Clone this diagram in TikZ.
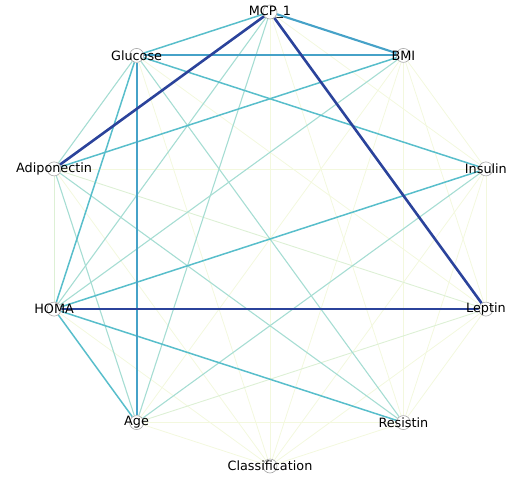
\documentclass[tikz,border=0pt]{standalone}
\usepackage{fontspec}
\setmainfont{DejaVu Sans}
\usetikzlibrary{backgrounds}

\definecolor{wdark}{HTML}{2B439B}
\definecolor{wblue}{HTML}{46A2C8}
\definecolor{wteal}{HTML}{58BECB}
\definecolor{wlight}{HTML}{A6DDD3}
\definecolor{wgreen}{HTML}{DDF0D5}
\definecolor{wpale}{HTML}{F3F8DE}

\begin{document}
\begin{tikzpicture}[x=1pt,y=-1pt,
  var/.style={circle,draw=black!35,line width=0.6pt,fill=white,minimum size=14pt,inner sep=0pt},
  lbl/.style={font=\fontsize{12.8}{14}\selectfont,text=black,inner sep=0pt},
  edark/.style={draw=wdark,line width=2.6pt},
  eblue/.style={draw=wblue,line width=2.1pt},
  eteal/.style={draw=wteal,line width=1.5pt},
  elight/.style={draw=wlight,line width=1.1pt},
  egreen/.style={draw=wgreen,line width=0.9pt},
  epale/.style={draw=wpale,line width=0.8pt}]
\useasboundingbox (0,0) rectangle (517,477);

% variables on a decagon
\node[var,label={[lbl]center:MCP\_1}] (mcp) at (270,12) {};
\node[var,label={[lbl]center:Glucose}] (glu) at (136.6,55.4) {};
\node[var,label={[lbl]center:BMI}] (bmi) at (403.4,55.4) {};
\node[var,label={[lbl]center:Adiponectin}] (adi) at (54.1,168.9) {};
\node[var,label={[lbl]center:Insulin}] (ins) at (485.9,168.9) {};
\node[var,label={[lbl]center:HOMA}] (homa) at (54.1,309.1) {};
\node[var,label={[lbl]center:Leptin}] (lep) at (485.9,309.1) {};
\node[var,label={[lbl]center:Age}] (age) at (136.6,422.6) {};
\node[var,label={[lbl]center:Resistin}] (res) at (403.4,422.6) {};
\node[var,label={[lbl]center:Classification}] (cls) at (270,466) {};

\begin{scope}[on background layer]
% weak links first
\foreach \a/\b in {mcp/ins,mcp/res,mcp/cls,glu/lep,glu/cls,bmi/ins,bmi/lep,
  bmi/age,bmi/res,bmi/cls,adi/ins,adi/cls,ins/lep,ins/res,ins/cls,homa/cls,
  lep/res,lep/cls,age/res,age/cls,res/cls}
  \draw[epale] (\a) -- (\b);
\foreach \a/\b in {adi/homa,adi/lep,age/lep}
  \draw[egreen] (\a) -- (\b);
\foreach \a/\b in {mcp/homa,mcp/age,bmi/homa,glu/adi,glu/res,adi/res,adi/age,age/ins}
  \draw[elight] (\a) -- (\b);
\foreach \a/\b in {mcp/glu,glu/ins,glu/homa,adi/bmi,homa/ins,homa/age,homa/res}
  \draw[eteal] (\a) -- (\b);
\foreach \a/\b in {mcp/bmi,glu/bmi,glu/age}
  \draw[eblue] (\a) -- (\b);
% strongest links
\foreach \a/\b in {mcp/adi,mcp/lep,homa/lep}
  \draw[edark] (\a) -- (\b);
\end{scope}
\end{tikzpicture}
\end{document}
